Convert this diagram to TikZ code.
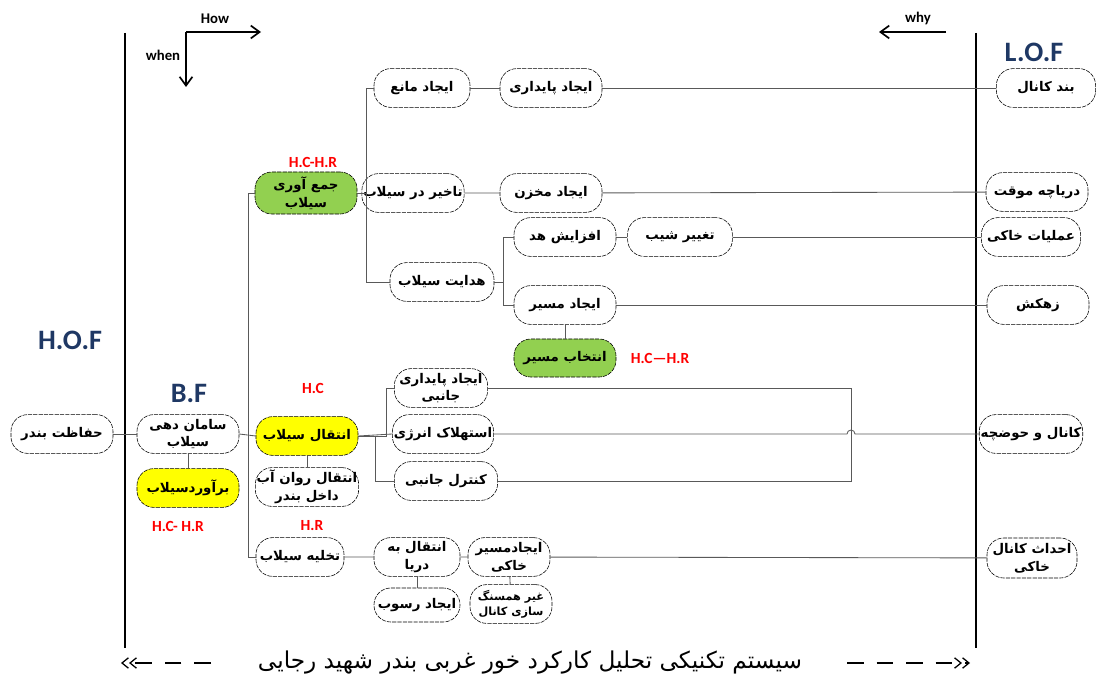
\documentclass[tikz,border=0pt]{standalone}
\usepackage{fontspec}
\setmainfont{Carlito}
\newfontfamily\arabicfont[Script=Arabic]{DejaVu Sans}
\TeXXeTstate=1
\usetikzlibrary{arrows.meta}
\definecolor{fgreen}{RGB}{146,208,80}
\definecolor{fyellow}{RGB}{255,255,0}
\definecolor{navy}{RGB}{31,56,100}
\newcommand\fatx[1]{\beginR #1\endR}

\begin{document}
\begin{tikzpicture}[
		x=0.025cm, y=-0.025cm,
		fn/.style={draw, dash pattern=on 3pt off 0.8pt, rounded corners=0.42cm, minimum width=2.55cm,
			minimum height=0.97cm, inner sep=1pt, align=center,
			font=\arabicfont\bfseries\fontsize{9.5}{12.5}\selectfont},
		link/.style={draw=gray!70!black, line width=0.6pt},
		tag/.style={text=red, font=\bfseries\fontsize{11}{12}\selectfont},
		level/.style={text=navy, font=\bfseries\fontsize{20}{22}\selectfont},
		bound/.style={line width=1.2pt},
		dir/.style={line width=1.2pt, -{Straight Barb[length=2.2mm,width=3.2mm]}},
		span/.style={line width=0.9pt, dash pattern=on 12pt off 9pt,
			-{Straight Barb[length=1.6mm,width=2.6mm]Straight Barb[length=1.6mm,width=2.6mm]}}
	]
		\useasboundingbox (0,0) rectangle (1098,676);

		% Boundaries
		\coordinate (lt) at (125,33);
		\coordinate (lb) at (125,648);
		\coordinate (rt) at (976,33);
		\coordinate (rb) at (976,648);
		\draw[bound] (lt) -- (lb);
		\draw[bound] (rt) -- (rb);

		% Directions
		\coordinate (corner) at (186,32);
		\coordinate (howend) at (261,32);
		\coordinate (whenend) at (186,87);
		\coordinate (whys) at (946,32);
		\coordinate (whye) at (879,32);
		\draw[dir] (corner) -- (howend);
		\draw[dir] (corner) -- (whenend);
		\draw[dir] (whys) -- (whye);
		\node[font=\bfseries\fontsize{10.5}{12}\selectfont] (how) at (215,19) {How};
		\node[font=\bfseries\fontsize{10.5}{12}\selectfont] (when) at (163,55) {when};
		\node[font=\bfseries\fontsize{10.5}{12}\selectfont] (why) at (918,18) {why};

		% Levels
		\node[level] (hof) at (70,340) {H.O.F};
		\node[level] (bf) at (189,393) {B.F};
		\node[level] (lof) at (1034,52) {L.O.F};

		% Functions
		\node[fn] (hofz) at (62,434) {\fatx{حفاظت بندر}};
		\node[fn] (saman) at (188,434) {\fatx{سامان دهی}\\\fatx{سیلاب}};
		\node[fn, fill=fyellow] (baravard) at (188,488) {\fatx{برآوردسیلاب}};
		\node[fn, fill=fgreen, minimum height=1.05cm] (jam) at (306,193) {\fatx{جمع آوری}\\\fatx{سیلاب}};
		\node[fn, fill=fyellow] (enteghal) at (307,436) {\fatx{انتقال سیلاب}};
		\node[fn] (ravan) at (307,487) {\fatx{انتقال روان آب}\\\fatx{داخل بندر}};
		\node[fn, minimum width=2.2cm] (takh) at (300,557) {\fatx{تخلیه سیلاب}};

		\node[fn, minimum width=2.4cm] (mane) at (422,88) {\fatx{ایجاد مانع}};
		\node[fn] (paydari) at (551,88) {\fatx{ایجاد پایداری}};
		\node[fn, minimum width=1.95cm] (takhir) at (413,193) {\fatx{تاخیر در سیلاب}};
		\node[fn] (makhzan) at (551,193) {\fatx{ایجاد مخزن}};
		\node[fn, minimum width=2.6cm] (hedayat) at (442,282) {\fatx{هدایت سیلاب}};
		\node[fn] (afz) at (565,237) {\fatx{افزایش هد}};
		\node[fn, minimum width=2.62cm] (taghir) at (680,237) {\fatx{تغییر شیب}};
		\node[fn] (masir) at (565,305) {\fatx{ایجاد مسیر}};
		\node[fn, fill=fgreen, minimum height=0.95cm] (entekhab) at (565,358) {\fatx{انتخاب مسیر}};

		\node[fn, minimum width=2.33cm] (payjan) at (441,388) {\fatx{ایجاد پایداری}\\\fatx{جانبی}};
		\node[fn, minimum width=2.42cm] (estehlak) at (443,434) {\fatx{استهلاک انرژی}};
		\node[fn, minimum width=2.58cm] (kontrol) at (446,481) {\fatx{کنترل جانبی}};

		\node[fn, minimum width=2.15cm] (darya) at (417,557) {\fatx{انتقال به}\\\fatx{دریا}};
		\node[fn, minimum width=2.05cm] (khaki) at (509,557) {\fatx{ایجادمسیر}\\\fatx{خاکی}};
		\node[fn, minimum width=2.15cm, minimum height=0.85cm] (rosub) at (417,605) {\fatx{ایجاد رسوب}};
		\node[fn, minimum width=2.05cm, font=\arabicfont\bfseries\fontsize{8}{10.5}\selectfont] (hamsang) at (511,604) {\fatx{غیر همسنگ}\\\fatx{سازی کانال}};

		\node[fn, minimum width=2.48cm] (band) at (1046,88) {\fatx{بند کانال}};
		\node[fn] (daryache) at (1037,192) {\fatx{دریاچه موقت}};
		\node[fn, minimum width=2.48cm] (amaliat) at (1031,237) {\fatx{عملیات خاکی}};
		\node[fn] (zahkesh) at (1038,305) {\fatx{زهکش}};
		\node[fn] (hozche) at (1031,434) {\fatx{کانال و حوضچه}};
		\node[fn, minimum width=2.25cm, minimum height=1cm] (ehdas) at (1032,558) {\fatx{احداث کانال}\\\fatx{خاکی}};

		% Tags
		\node[tag] (t1) at (313,162) {H.C-H.R};
		\node[tag] (t2) at (313,388) {H.C};
		\node[tag] (t3) at (178,526) {H.C- H.R};
		\node[tag] (t4) at (312,526) {H.R};
		\node[tag] (t5) at (660,358) {H.C---H.R};

		% Links
		\coordinate (trunk) at (248,193);
		\draw[link] (hofz) -- (saman);
		\draw[link] (saman) -- (baravard);
		\draw[link] (saman.east) -- (enteghal.west);
		\draw[link] (jam.west) -- (trunk) |- (takh.west);
		\draw[link] (enteghal) -- (ravan);

		\draw[link] (jam.east) -- ++(9,0) |- (mane.west);
		\draw[link] (jam.east) ++(9,0) |- (hedayat.west);
		\draw[link] (jam.east) -- (takhir.west);
		\draw[link] (mane) -- (paydari) -- (band);
		\draw[link] (takhir) -- (makhzan) -- (daryache);
		\draw[link] (hedayat.east) -- ++(9,0) |- (afz.west);
		\draw[link] (hedayat.east) ++(9,0) |- (masir.west);
		\draw[link] (afz) -- (taghir) -- (amaliat);
		\draw[link] (masir) -- (zahkesh);
		\draw[link] (masir) -- (entekhab);

		\coordinate (jmp) at (851,434);
		\draw[link] (enteghal.east) -- ++(28,0) |- (payjan.west);
		\draw[link] (enteghal.east) -- (estehlak.west);
		\draw[link] (enteghal.east) ++(17,0) |- (kontrol.west);
		\draw[link] (payjan.east) -| (jmp |- kontrol.east) -- (kontrol.east);
		\draw[link] (estehlak.east) -- ([xshift=-0.1cm]jmp) arc[start angle=180, end angle=0, radius=0.1cm] -- (hozche.west);

		\draw[link] (takh) -- (darya) -- (khaki) -- (ehdas);
		\draw[link] (darya) -- (rosub);
		\draw[link] (khaki) -- (hamsang);

		% Title
		\node[font=\arabicfont\fontsize{16.5}{18}\selectfont] (title) at (530,663) {\fatx{سیستم تکنیکی تحلیل کارکرد خور غربی بندر شهید رجایی}};
		\coordinate (al) at (121,663);
		\coordinate (ar) at (970,663);
		\draw[span] ([xshift=-1.05cm]title.west) -- (al);
		\draw[span] ([xshift=1cm]title.east) -- (ar);
	\end{tikzpicture}
\end{document}
